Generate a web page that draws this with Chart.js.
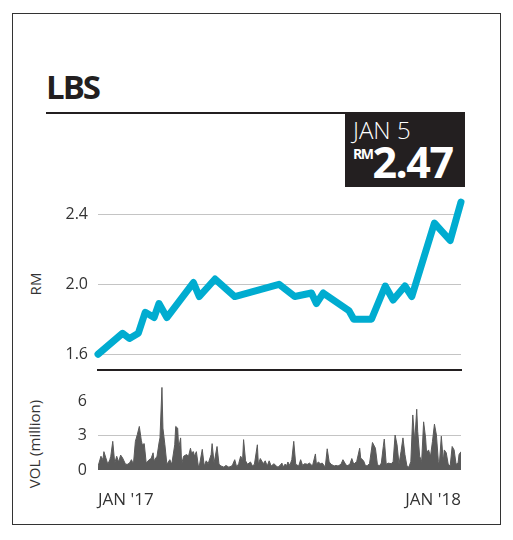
<!DOCTYPE html>
<html>
<head>
<meta charset="utf-8">
<script src="https://cdn.jsdelivr.net/npm/chart.js@4.4.1/dist/chart.umd.min.js"></script>
<style>
  html, body { margin: 0; padding: 0; background: #fff; }
  body { width: 513px; height: 540px; position: relative; overflow: hidden; font-family: 'Open Sans', sans-serif; color: #333; }
  .abs { position: absolute; white-space: nowrap; }
  #frame { left: 12px; top: 13px; width: 489px; height: 512px; border: 1.5px solid #333; box-sizing: border-box; }
  #title { left: 46px; top: 70px; font-size: 33px; line-height: 33px; font-weight: 700; color: #231f20; letter-spacing: -2px; }
  #rule { left: 46px; top: 111.5px; width: 300px; height: 2.5px; background: #231f20; }
  #box { left: 345px; top: 111.5px; width: 120px; height: 75.5px; background: #231f20; }
  #date { left: 353px; top: 118px; font-size: 24px; line-height: 24px; font-weight: 300; color: #fff; }
  #cur { left: 353px; top: 147px; font-size: 14px; line-height: 14px; font-weight: 700; color: #fff; letter-spacing: -1.5px; }
  #last { left: 372.5px; top: 140.1px; font-size: 43px; line-height: 43px; font-weight: 700; color: #fff; letter-spacing: -1.5px; }
  .ytitle { font-size: 15px; line-height: 15px; color: #333; transform: translate(-50%, -50%) rotate(-90deg); }
</style>
</head>
<body>
<div id="frame" class="abs"></div>
<div id="title" class="abs">LBS</div>
<div id="rule" class="abs"></div>
<div id="box" class="abs"></div>
<div id="date" class="abs">JAN 5</div>
<div id="cur" class="abs">RM</div>
<div id="last" class="abs">2.47</div>
<div class="abs ytitle" style="left:35px;top:284px">RM</div>
<div class="abs ytitle" style="left:34px;top:444px">VOL (million)</div>
<canvas id="price" class="abs" width="513" height="210" style="left:0;top:170px"></canvas>
<canvas id="vol" class="abs" width="513" height="155" style="left:0;top:375px"></canvas>
<script>
// dias desde 1 jan 2017
const priceDays = [0, 25, 32, 41, 48, 57, 62, 70, 97, 103, 119, 139, 184, 200, 217, 222, 229, 255, 260, 278, 292, 300, 312, 319, 342, 358, 369];
const priceValues = [1.60, 1.72, 1.69, 1.72, 1.84, 1.81, 1.89, 1.81, 2.01, 1.93, 2.03, 1.93, 2.00, 1.93, 1.95, 1.89, 1.95, 1.85, 1.80, 1.80, 1.99, 1.91, 1.99, 1.93, 2.35, 2.25, 2.47];
const priceTicks = [1.6, 2.0, 2.4];

const volDays = [
  0, 3, 5, 6, 8, 10, 12, 13, 15, 17, 19, 21, 23, 25, 28, 30, 32, 34, 36, 38, 40, 42, 44, 45, 47, 49, 52, 54, 56, 57, 60, 62, 63, 65, 66, 68, 70, 73, 75, 78, 79, 81, 82, 84, 85, 87, 90, 92, 94,
  95, 97, 98, 100, 102, 103, 106, 108, 110, 112, 115, 116, 118, 121, 123, 125, 128, 130, 133, 136, 137, 139, 141, 143, 145, 147, 148, 150, 152, 155, 157, 159, 162, 163, 165, 168, 170, 172, 174, 176, 179, 181, 183, 185, 187,
  188, 190, 192, 193, 195, 197, 199, 201, 204, 206, 208, 210, 213, 215, 218, 221, 222, 224, 226, 228, 231, 233, 235, 237, 240, 242, 244, 247, 249, 251, 253, 256, 258, 260, 263, 266, 267, 270, 272, 274, 276, 279,
  282, 284, 286, 288, 290, 291, 293, 295, 298, 300, 302, 304, 306, 308, 310, 312, 314, 316, 318, 320, 322, 324, 325, 327, 329, 331, 333, 334, 336, 338, 340, 342, 344, 346, 347, 349, 351, 352, 354, 356, 358, 360, 362, 364, 366, 367, 369
];
const volValues = [
  0.3, 1.2, 0.9, 1.6, 1.05, 0.5, 0.9, 1.2, 2.5, 0.6, 1.2, 0.7, 1.3, 1.05, 0.5, 0.5, 0.6, 0.9, 0.5, 2.5, 3.1, 3.8, 2.6, 2.2, 2.3, 0.6, 0.9, 1.0, 1.5, 0.8, 1.2, 2.35, 2.8, 7.2, 3.65, 2.2, 0.5, 0.9, 0.5, 2.2, 3.8, 3.65, 1.9, 2.8, 0.5, 1.2, 1.35, 1.2, 1.9,
  1.5, 1.6, 1.2, 1.6, 0.35, 0.35, 1.8, 0.35, 0.8, 0.55, 1.35, 2.3, 0.6, 2.05, 0.5, 0.35, 0.25, 0.4, 0.25, 0.35, 0.5, 0.9, 0.25, 0.55, 1.2, 0.9, 2.65, 0.8, 0.5, 0.7, 0.35, 0.5, 2.2, 0.5, 1.0, 0.55, 0.8, 0.35, 0.8, 0.35, 0.55, 0.35, 0.25, 0.4, 0.6,
  0.25, 0.5, 0.4, 0.7, 0.4, 0.9, 2.5, 0.5, 0.35, 0.9, 0.4, 0.55, 0.5, 0.6, 0.35, 1.4, 0.5, 0.7, 0.55, 0.6, 0.25, 1.85, 0.7, 0.5, 0.35, 0.4, 0.35, 0.5, 0.9, 0.6, 0.35, 0.5, 1.0, 0.5, 0.75, 1.9, 1.05, 0.8, 0.35, 0.4, 0.55, 2.4,
  1.9, 0.5, 0.35, 0.6, 2.05, 2.7, 0.5, 0.6, 0.55, 0.7, 3.05, 2.2, 0.5, 1.6, 2.8, 1.35, 0.35, 0.25, 0.75, 4.8, 2.5, 5.3, 3.35, 1.2, 0.75, 4.2, 2.8, 1.5, 1.75, 1.2, 2.5, 4.0, 3.05, 0.75, 0.5, 2.95, 0.75, 1.75, 1.5, 0.5, 0.35, 2.05, 1.75, 0.5, 0.6, 1.35, 1.6
];
const volTicks = [0, 3, 6];
const xLabels = ["JAN '17", "JAN '18"];

Chart.defaults.font.family = "'Open Sans', sans-serif";
Chart.defaults.color = '#333';

const gridColor = '#c4c4c4';

// eixo y com largura fixa e sem folga extra em cima/embaixo
function fixY(s) {
  s.width = 98;
  s.paddingTop = 0;
  s.paddingBottom = 0;
}

new Chart(document.getElementById('price'), {
  type: 'line',
  data: {
    datasets: [{
      data: priceDays.map((d, i) => ({x: d, y: priceValues[i]})),
      borderColor: '#00acd0',
      borderWidth: 7,
      borderCapStyle: 'round',
      borderJoinStyle: 'round',
      pointRadius: 0,
      tension: 0,
      clip: false
    }]
  },
  options: {
    responsive: false,
    animation: false,
    layout: {padding: {top: 10, right: 52, left: 0, bottom: 0}},
    plugins: {legend: {display: false}, tooltip: {enabled: false}},
    scales: {
      x: {
        type: 'linear', min: 0, max: 369,
        ticks: {display: false},
        grid: {display: false},
        border: {display: true, color: '#231f20', width: 2},
        afterFit: s => { s.height = 10; s.paddingLeft = 0; s.paddingRight = 0; }
      },
      y: {
        min: 1.51, max: 2.596,
        afterBuildTicks: s => { s.ticks = priceTicks.map(v => ({value: v})); },
        ticks: {padding: 10, font: {size: 16}, callback: v => v.toFixed(1)},
        grid: {color: gridColor, drawTicks: false},
        border: {display: false},
        afterFit: fixY
      }
    }
  }
});

new Chart(document.getElementById('vol'), {
  type: 'line',
  data: {
    datasets: [{
      data: volDays.map((d, i) => ({x: d, y: volValues[i]})),
      borderColor: '#5a5a5a',
      backgroundColor: '#5a5a5a',
      borderWidth: 1,
      pointRadius: 0,
      tension: 0,
      fill: 'origin'
    }]
  },
  options: {
    responsive: false,
    animation: false,
    layout: {padding: {top: 9, right: 52, left: 0, bottom: 0}},
    plugins: {legend: {display: false}, tooltip: {enabled: false}},
    scales: {
      x: {
        type: 'linear', min: 0, max: 369,
        afterBuildTicks: s => { s.ticks = [{value: 0}, {value: 369}]; },
        ticks: {align: 'inner', padding: 12, font: {size: 17}, maxRotation: 0, autoSkip: false, callback: (v, i) => xLabels[i]},
        grid: {display: false},
        border: {display: false},
        afterFit: s => { s.height = 60; s.paddingLeft = 0; s.paddingRight = 0; }
      },
      y: {
        min: 0, max: 7.5,
        afterBuildTicks: s => { s.ticks = volTicks.map(v => ({value: v})); },
        ticks: {padding: 11, font: {size: 16}},
        grid: {color: c => (c.tick && c.tick.value === 3) ? gridColor : 'rgba(0,0,0,0)', drawTicks: false},
        border: {display: false},
        afterFit: fixY
      }
    }
  }
});
</script>
</body>
</html>
